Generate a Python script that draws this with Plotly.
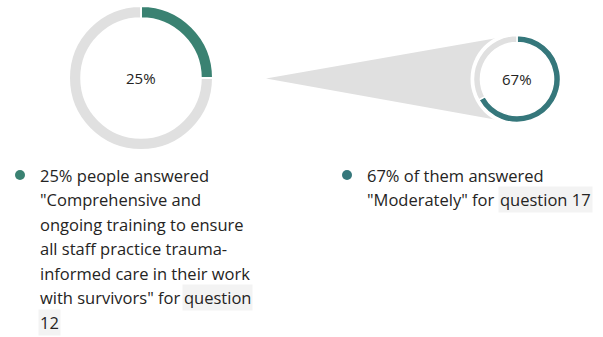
import plotly.graph_objects as go

W, H = 603, 337

# Survey shares for the two drill-down donuts
q12_labels = ["Comprehensive and ongoing training", "Other answers"]
q12_values = [25, 75]
q17_labels = ["Moderately", "Other answers"]
q17_values = [67, 33]

q12_center_label = "25%"
q17_center_label = "67%"

left_lines = [
    "25% people answered",
    "\"Comprehensive and",
    "ongoing training to ensure",
    "all staff practice trauma-",
    "informed care in their work",
    "with survivors\" for",
]
left_link = ["question", "12"]
right_lines = ["67% of them answered", "\"Moderately\" for"]
right_link = "question 17"

TEAL1 = "#3a8272"
TEAL2 = "#35777b"
GREY = "#e0e0e0"
INK = "#252423"
FONT = "Open Sans"


def px(x):
    return x / W


def py(y):
    return 1 - y / H


def pie_domain(cx, cy, r):
    return dict(x=[px(cx - r), px(cx + r)], y=[py(cy + r), py(cy - r)])


fig = go.Figure()

c1 = (141, 78, 72)
c2 = (517, 79, 43.5)

fig.add_trace(go.Pie(
    labels=q12_labels, values=q12_values, sort=False, direction="clockwise",
    hole=0.83, domain=pie_domain(*c1), textinfo="none", hoverinfo="label+percent",
    marker=dict(colors=[TEAL1, GREY], line=dict(color="white", width=2)),
    showlegend=False,
))
fig.add_trace(go.Pie(
    labels=q17_labels, values=q17_values, sort=False, direction="clockwise",
    hole=0.84, domain=pie_domain(*c2), textinfo="none", hoverinfo="label+percent",
    marker=dict(colors=[TEAL2, GREY], line=dict(color="white", width=1.5)),
    showlegend=False,
))

shapes = []
# cone linking the first donut to the second
tip = (266, 78.5)
cx2, cy2, r2 = c2
shapes.append(dict(
    type="path", xref="paper", yref="paper", layer="below",
    path=f"M {px(tip[0])},{py(tip[1])} L {px(cx2)},{py(cy2 - r2 - 1)} "
         f"L {px(cx2)},{py(cy2 + r2 + 1)} Z",
    fillcolor=GREY, line=dict(width=0),
))
gap = r2 + 3
shapes.append(dict(
    type="circle", xref="paper", yref="paper", layer="below",
    x0=px(cx2 - gap), x1=px(cx2 + gap), y0=py(cy2 + gap), y1=py(cy2 - gap),
    fillcolor="white", line=dict(width=0),
))
# legend dots
for (dx, dy, col) in [(20, 175, TEAL1), (347, 175, TEAL2)]:
    shapes.append(dict(
        type="circle", xref="paper", yref="paper",
        x0=px(dx - 5), x1=px(dx + 5), y0=py(dy + 5), y1=py(dy - 5),
        fillcolor=col, line=dict(width=0),
    ))

annotations = []


def text(x, y, s, anchor="left", size=16.5, bg=None):
    annotations.append(dict(
        x=px(x), y=py(y), xref="paper", yref="paper", text=s, showarrow=False,
        xanchor=anchor, yanchor="middle", align=anchor,
        font=dict(family=FONT, size=size, color=INK),
        bgcolor=bg, borderpad=1,
    ))


text(c1[0], c1[1], q12_center_label, anchor="center", size=15)
text(c2[0], c2[1], q17_center_label, anchor="center", size=15)

LINE = 24.5
for i, s in enumerate(left_lines):
    text(38, 175 + i * LINE, s)
text(253, 175 + 5 * LINE, left_link[0], anchor="right", bg="#f3f3f3")
text(38, 175 + 6 * LINE, left_link[1], bg="#f3f3f3")

for i, s in enumerate(right_lines):
    text(365, 175 + i * LINE, s)
text(593, 175 + LINE, right_link, anchor="right", bg="#f3f3f3")

fig.update_layout(
    width=W, height=H, margin=dict(l=0, r=0, t=0, b=0),
    paper_bgcolor="white", plot_bgcolor="white",
    shapes=shapes, annotations=annotations,
    font=dict(family=FONT, color=INK),
)

fig.write_html("out.html")
